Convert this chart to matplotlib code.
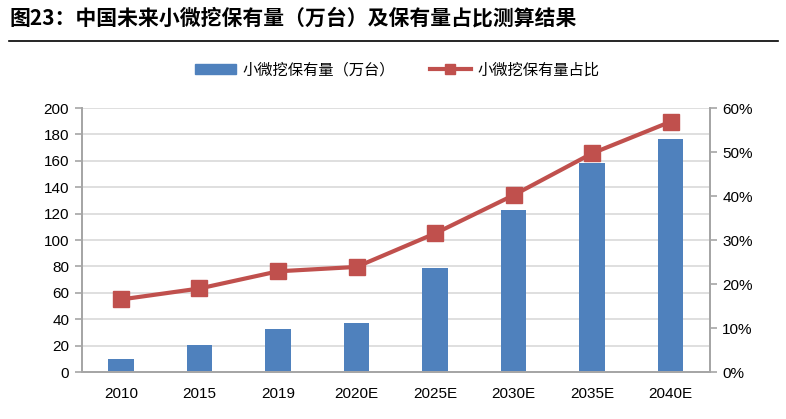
import matplotlib.pyplot as plt
import matplotlib.ticker as mticker
from matplotlib.lines import Line2D
import numpy as np

plt.rcParams['font.family'] = ['Liberation Sans', 'Noto Sans CJK SC', 'DejaVu Sans']

years = ['2010', '2015', '2019', '2020E', '2025E', '2030E', '2035E', '2040E']
stock = [10, 20.4, 32.6, 37, 79, 123, 158.6, 176.5]          # 万台
share = [16.5, 19.0, 22.9, 23.9, 31.5, 40.2, 49.7, 56.9]     # %

bar_color = '#4F81BD'
line_color = '#C0504D'
grid_color = '#D9D9D9'
spine_color = '#A6A6A6'

fig = plt.figure(figsize=(7.86, 4.19), dpi=100)
ax = fig.add_axes([0.104, 0.112, 0.799, 0.630])
ax2 = ax.twinx()

x = np.arange(len(years))
ax.bar(x, stock, width=0.32, color=bar_color, zorder=2)
ax2.plot(x, share, color=line_color, lw=3, marker='s', ms=11, zorder=3)

ax.set_xlim(-0.5, len(years) - 0.5)
ax.set_ylim(0, 200)
ax.set_yticks(np.arange(0, 201, 20))
ax2.set_ylim(0, 60)
ax2.set_yticks(np.arange(0, 61, 10))
ax2.yaxis.set_major_formatter(mticker.FuncFormatter(lambda v, p: f'{v:.0f}%'))

ax.set_xticks(x)
ax.set_xticklabels(years)
ax.yaxis.grid(True, color=grid_color, lw=1.2, zorder=0)
ax.set_axisbelow(True)

for a in (ax, ax2):
    a.spines['top'].set_visible(False)
    for s in ('left', 'right', 'bottom'):
        a.spines[s].set_color(spine_color)
        a.spines[s].set_linewidth(1.3)
    a.tick_params(axis='y', labelsize=11, length=5, color=spine_color, width=1.2, pad=4)
ax.tick_params(axis='x', labelsize=11, length=0, pad=11)

handles = [
    plt.Rectangle((0, 0), 1, 1, color=bar_color),
    Line2D([0], [0], color=line_color, lw=3, marker='s', ms=7),
]
labels = ['小微挖保有量（万台）', '小微挖保有量占比']
fig.legend(handles, labels, loc='center', bbox_to_anchor=(0.505, 0.833), ncol=2,
           frameon=False, prop={'family': ['Noto Sans CJK SC', 'DejaVu Sans'], 'size': 11},
           handlelength=2.7, columnspacing=2.3, handletextpad=0.4)

fig.text(0.012, 0.957, '图23：中国未来小微挖保有量（万台）及保有量占比测算结果',
         fontsize=15, fontweight='bold', va='center', ha='left',
         family=['Noto Sans CJK SC', 'DejaVu Sans'])
fig.add_artist(Line2D([0.012, 0.99], [0.902, 0.902], color='black', lw=1.2,
                      transform=fig.transFigure))

fig.savefig('out.png', dpi=100)
